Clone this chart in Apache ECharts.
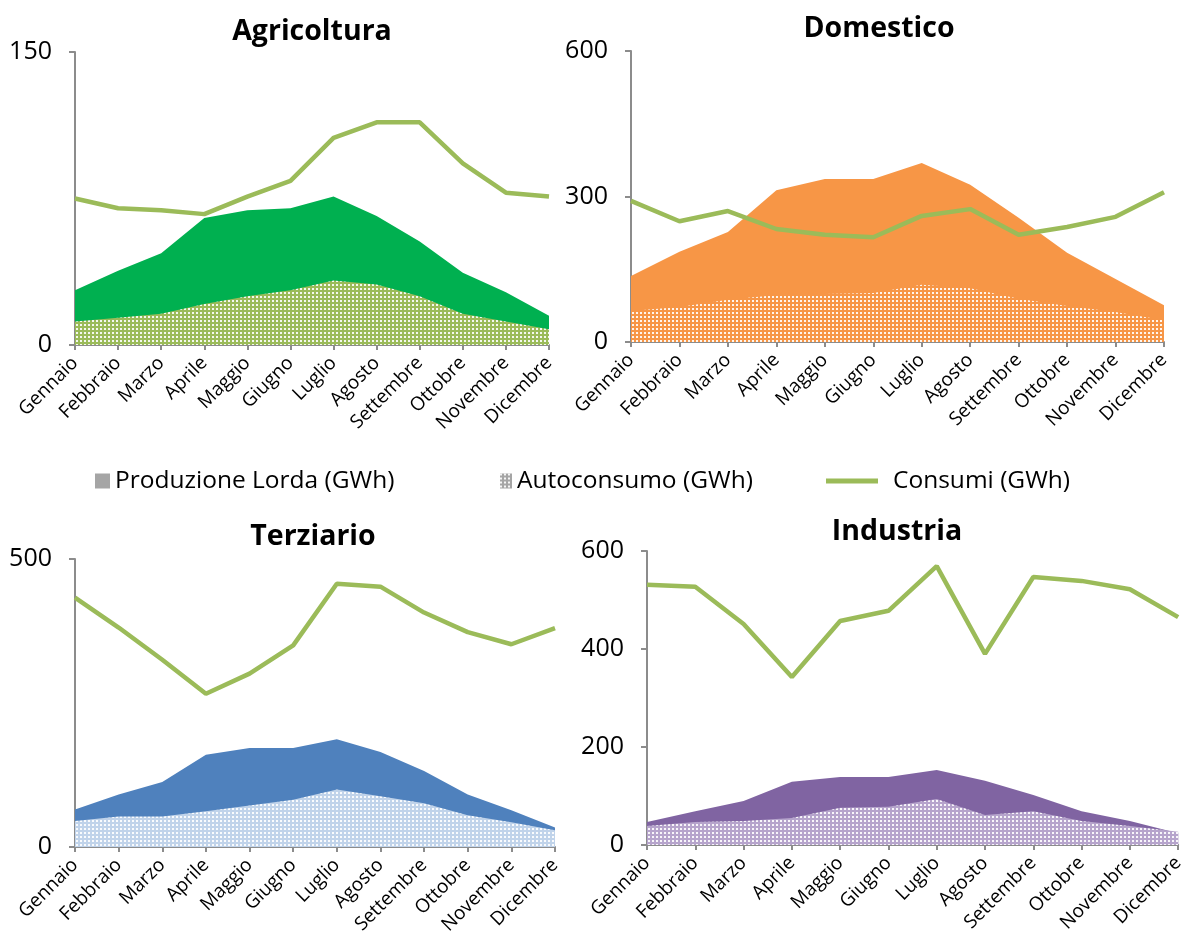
<!DOCTYPE html>
<html>
<head>
<meta charset="utf-8">
<script src="https://cdn.jsdelivr.net/npm/echarts@6/dist/echarts.min.js"></script>
<style>
  html, body { margin: 0; padding: 0; background: #fff; }
  #chart { width: 1187px; height: 937px; }
</style>
</head>
<body>
<div id="chart"></div>
<script>
// Mesi dell'anno
const mesi = ['Gennaio', 'Febbraio', 'Marzo', 'Aprile', 'Maggio', 'Giugno',
  'Luglio', 'Agosto', 'Settembre', 'Ottobre', 'Novembre', 'Dicembre'];

// Agricoltura (GWh)
const agrProduzione = [28, 38, 47, 65, 69, 70, 76, 66, 53, 37, 27, 15];
const agrAutoconsumo = [12, 14, 16, 21, 25, 28, 33, 31, 25, 16, 12, 8];
const agrConsumi = [75, 70, 69, 67, 76, 84, 106, 114, 114, 93, 78, 76];

// Domestico (GWh)
const domProduzione = [136, 186, 227, 313, 336, 336, 369, 324, 256, 184, 130, 76];
const domAutoconsumo = [64, 72, 87, 97, 99, 101, 118, 111, 89, 74, 62, 45];
const domConsumi = [291, 249, 270, 233, 221, 216, 260, 274, 221, 237, 258, 309];

// Terziario (GWh)
const terProduzione = [65, 91, 113, 160, 172, 172, 187, 165, 132, 91, 64, 34];
const terAutoconsumo = [45, 53, 53, 62, 72, 82, 100, 88, 76, 55, 43, 29];
const terConsumi = [433, 381, 325, 266, 301, 350, 457, 452, 407, 373, 352, 380];

// Industria (GWh)
const indProduzione = [47, 69, 90, 129, 139, 139, 153, 131, 102, 69, 49, 24];
const indAutoconsumo = [39, 47, 49, 55, 76, 78, 94, 61, 69, 49, 39, 27];
const indConsumi = [531, 527, 451, 343, 457, 478, 569, 390, 547, 539, 522, 465];

const nomeProduzione = 'Produzione Lorda (GWh)';
const nomeAutoconsumo = 'Autoconsumo (GWh)';
const nomeConsumi = 'Consumi (GWh)';
const coloreConsumi = '#9bbb59';
const coloreAsse = '#8c8c8c';
const fontTesto = '"Open Sans", "DejaVu Sans", sans-serif';

// Dotted fill used for the self-consumption areas
function puntinato(base) {
  const c = document.createElement('canvas');
  c.width = 4; c.height = 4;
  const g = c.getContext('2d');
  g.fillStyle = base;
  g.fillRect(0, 0, 4, 4);
  g.fillStyle = 'rgba(255,255,255,0.9)';
  g.fillRect(0, 0, 2, 2);
  return { image: c, repeat: 'repeat' };
}

const pannelli = [
  { titolo: 'Agricoltura', tx: 312, ty: 17, grid: { left: 75, top: 52, width: 474, height: 293 },
    max: 150, interval: 150, prod: agrProduzione, auto: agrAutoconsumo, cons: agrConsumi,
    colore: '#00b050', coloreAuto: '#9bbb59' },
  { titolo: 'Domestico', tx: 879, ty: 14, grid: { left: 631, top: 51, width: 533, height: 291 },
    max: 600, interval: 300, prod: domProduzione, auto: domAutoconsumo, cons: domConsumi,
    colore: '#f79646', coloreAuto: '#f79646' },
  { titolo: 'Terziario', tx: 313, ty: 522, grid: { left: 75, top: 559, width: 480, height: 291 },
    max: 500, interval: 500, prod: terProduzione, auto: terAutoconsumo, cons: terConsumi,
    colore: '#4f81bd', coloreAuto: '#c0d3ea' },
  { titolo: 'Industria', tx: 897, ty: 517, grid: { left: 647, top: 551, width: 534, height: 294 },
    max: 600, interval: 200, prod: indProduzione, auto: indAutoconsumo, cons: indConsumi,
    colore: '#8064a2', coloreAuto: '#b6a4cc' }
];

const testoLegenda = { fontFamily: fontTesto, fontSize: 24.5, color: '#000', lineHeight: 30 };

const option = {
  animation: false,
  backgroundColor: '#fff',
  title: pannelli.map(p => ({
    text: p.titolo, left: p.tx, top: p.ty, textAlign: 'center', padding: 0,
    textStyle: { fontFamily: fontTesto, fontWeight: 'bold', fontSize: 28.5, color: '#000' }
  })),
  legend: [
    { data: [{ name: nomeProduzione, icon: 'rect', itemStyle: { color: '#a5a5a5' } }],
      left: 95, top: 466, itemWidth: 15, itemHeight: 15, padding: 0, textStyle: testoLegenda },
    { data: [{ name: nomeAutoconsumo, icon: 'rect', itemStyle: { color: puntinato('#a5a5a5') } }],
      left: 500, top: 466, itemWidth: 12, itemHeight: 15, padding: 0, textStyle: testoLegenda },
    { data: [{ name: nomeConsumi, icon: 'rect', itemStyle: { color: coloreConsumi } }],
      left: 826, top: 466, itemWidth: 52, itemHeight: 5, padding: 0,
      textStyle: Object.assign({}, testoLegenda, { padding: [0, 0, 0, 10] }) }
  ],
  grid: pannelli.map(p => p.grid),
  xAxis: pannelli.map((p, i) => ({
    type: 'category', gridIndex: i, data: mesi, boundaryGap: false,
    axisLine: { lineStyle: { color: coloreAsse, width: 2 } },
    axisTick: { show: true, length: 5, interval: 0, lineStyle: { color: coloreAsse, width: 2 } },
    axisLabel: { interval: 0, rotate: 45, margin: 15, fontFamily: fontTesto, fontSize: 19, color: '#000' },
    splitLine: { show: false }
  })),
  yAxis: pannelli.map((p, i) => ({
    type: 'value', gridIndex: i, min: 0, max: p.max, interval: p.interval,
    axisLine: { show: true, lineStyle: { color: coloreAsse, width: 2 } },
    axisTick: { show: true, length: 6, lineStyle: { color: coloreAsse, width: 2 } },
    axisLabel: { margin: 23, fontFamily: fontTesto, fontSize: 25, color: '#000' },
    splitLine: { show: false }
  })),
  series: pannelli.flatMap((p, i) => [
    { name: nomeProduzione, type: 'line', xAxisIndex: i, yAxisIndex: i, data: p.prod,
      symbol: 'none', lineStyle: { width: 0 }, itemStyle: { color: p.colore },
      areaStyle: { color: p.colore, opacity: 1 }, z: 1 },
    { name: nomeAutoconsumo, type: 'line', xAxisIndex: i, yAxisIndex: i, data: p.auto,
      symbol: 'none', lineStyle: { width: 0 }, itemStyle: { color: p.coloreAuto },
      areaStyle: { color: puntinato(p.coloreAuto), opacity: 1 }, z: 2 },
    { name: nomeConsumi, type: 'line', xAxisIndex: i, yAxisIndex: i, data: p.cons,
      symbol: 'none', lineStyle: { width: 4.5, color: coloreConsumi }, itemStyle: { color: coloreConsumi }, z: 3 }
  ])
};

const chart = echarts.init(document.getElementById('chart'), null, { renderer: 'canvas' });
chart.setOption(option);
</script>
</body>
</html>
